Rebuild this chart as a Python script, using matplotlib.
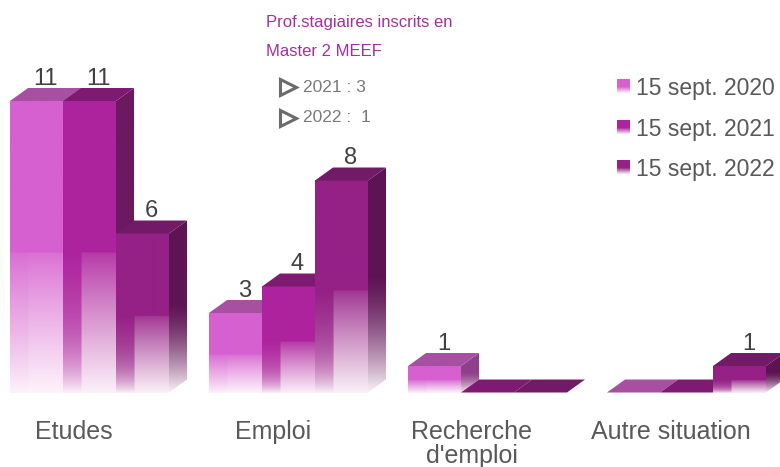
import numpy as np
import matplotlib
matplotlib.use('Agg')
import matplotlib.pyplot as plt
from matplotlib.patches import Polygon
from matplotlib.lines import Line2D
from matplotlib.colors import to_rgb

# ---------------- data ----------------
categories = ['Etudes', 'Emploi', "Recherche\nd'emploi", 'Autre situation']
series = ['15 sept. 2020', '15 sept. 2021', '15 sept. 2022']
v2020 = [11, 3, 1, 0]
v2021 = [11, 4, 0, 0]
v2022 = [6, 8, 0, 1]
values = [v2020, v2021, v2022]

note_title = ['Prof.stagiaires inscrits en', 'Master 2 MEEF']
note_items = ['2021 : 3', '2022 :  1']

# ---------------- style ----------------
front_cols = ['#d660cf', '#ad239d', '#952086']
top_cols = ['#a74fa0', '#7f1a73', '#711a66']
side_cols = ['#8f4088', '#6b1960', '#5e1454']
strip_strength = [0.15, 1.0, 1.0]
WHITE = np.array([1.0, 0.975, 0.99])

plt.rcParams['font.family'] = ['Liberation Sans', 'DejaVu Sans']

fig = plt.figure(figsize=(7.8, 4.67), dpi=100)
ax = fig.add_axes([0, 0, 1, 1])
ax.set_xlim(-0.4497, 3.4698)
ax.set_ylim(-2.811, 14.811)
ax.axis('off')

W = 0.2663      # bar width (data units)
DX, DY = 0.0905, 0.49   # 3D depth offset (data units)
FS = 0.48       # fraction of bar height that fades


def front_img(color, k, n=160, m=60):
    c = np.array(to_rgb(color))
    y = np.linspace(0, 1, n)[:, None]
    x = np.linspace(0, 1, m)[None, :]
    t = np.clip((FS - y) / FS, 0, 1)
    inside = (y < FS)
    right = np.where(inside, 0.10 + 0.86 * t ** 0.9, 0.0)
    left_strip = 0.35 * t + 0.6 * t ** 4
    left = right + (left_strip - right) * k
    a = np.where(x < 0.34, left, right)
    a = np.broadcast_to(a, (n, m))
    return c * (1 - a[..., None]) + WHITE * a[..., None]


def side_img(color, n=160):
    c = np.array(to_rgb(color))
    y = np.linspace(0, 1, n)[:, None]
    t = np.clip((FS + 0.05 - y) / (FS + 0.05), 0, 1)
    a = 0.97 * t ** 1.5
    a = np.repeat(a, 4, axis=1)
    return c * (1 - a[..., None]) + WHITE * a[..., None]


for i, cat in enumerate(categories):
    for j in range(3):
        h = values[j][i]
        x0 = i - 1.5 * W + j * W
        x1 = x0 + W
        z = 2 + i * 10 + j * 3
        if h > 0:
            ax.imshow(front_img(front_cols[j], strip_strength[j]), extent=(x0, x1, 0, h),
                      origin='lower', aspect='auto', interpolation='bilinear', zorder=z)
            side = Polygon([(x1, 0), (x1 + DX, DY), (x1 + DX, h + DY), (x1, h)],
                           closed=True, transform=ax.transData)
            im = ax.imshow(side_img(side_cols[j]), extent=(x1, x1 + DX, 0, h + DY), origin='lower',
                           aspect='auto', interpolation='bilinear', zorder=z)
            im.set_clip_path(side)
        top = Polygon([(x0, h), (x1, h), (x1 + DX, h + DY), (x0 + DX, h + DY)], closed=True,
                      facecolor=top_cols[j], edgecolor='none', zorder=z + 1)
        ax.add_patch(top)
        if h > 0:
            ax.annotate(str(h), (x0 + W / 2 + DX / 2, h + DY), xytext=(0, 2.5),
                        textcoords='offset points', ha='center', va='baseline',
                        fontsize=17, color='#404040', zorder=50)
    ax.text(i - 0.08, -1.02, cat, ha='center', va='top', fontsize=18,
            color='#595959', linespacing=1.0)

ax.set_xlim(-0.4497, 3.4698)
ax.set_ylim(-2.811, 14.811)

# ---------------- legend ----------------
FW, FH = 780.0, 467.0
leg_y = [86, 127, 167]
for j, name in enumerate(series):
    c = np.array(to_rgb(front_cols[j]))
    y = np.linspace(0, 1, 40)[:, None]
    t = np.clip((0.45 - y) / 0.45, 0, 1)
    a = np.repeat(0.95 * t, 4, axis=1)
    img = c * (1 - a[..., None]) + WHITE * a[..., None]
    sq = fig.add_axes([617 / FW, 1 - (leg_y[j] + 7) / FH, 13 / FW, 14 / FH])
    sq.imshow(img, origin='lower', aspect='auto', extent=(0, 1, 0, 1), interpolation='bilinear')
    sq.axis('off')
    fig.text(636 / FW, 1 - leg_y[j] / FH, name, ha='left', va='center_baseline',
             fontsize=16.5, color='#595959')

# ---------------- note ----------------
fig.text(359.5 / FW, 1 - 22 / FH, note_title[0], ha='center', va='center',
         fontsize=12, color='#a3309c')
fig.text(266 / FW, 1 - 52 / FH, note_title[1], ha='left', va='center',
         fontsize=12, color='#a3309c')
for k, item in enumerate(note_items):
    yy = 1 - (87 + 31 * k) / FH
    fig.add_artist(Line2D([288 / FW], [yy], marker='>', markersize=11, markerfacecolor='none',
                          markeredgecolor='#6b6b6b', markeredgewidth=2.2, transform=fig.transFigure))
    fig.text(303 / FW, yy, item, ha='left', va='center', fontsize=12.5,
             color='#7a7a7a')

fig.savefig('out.png', dpi=100)
